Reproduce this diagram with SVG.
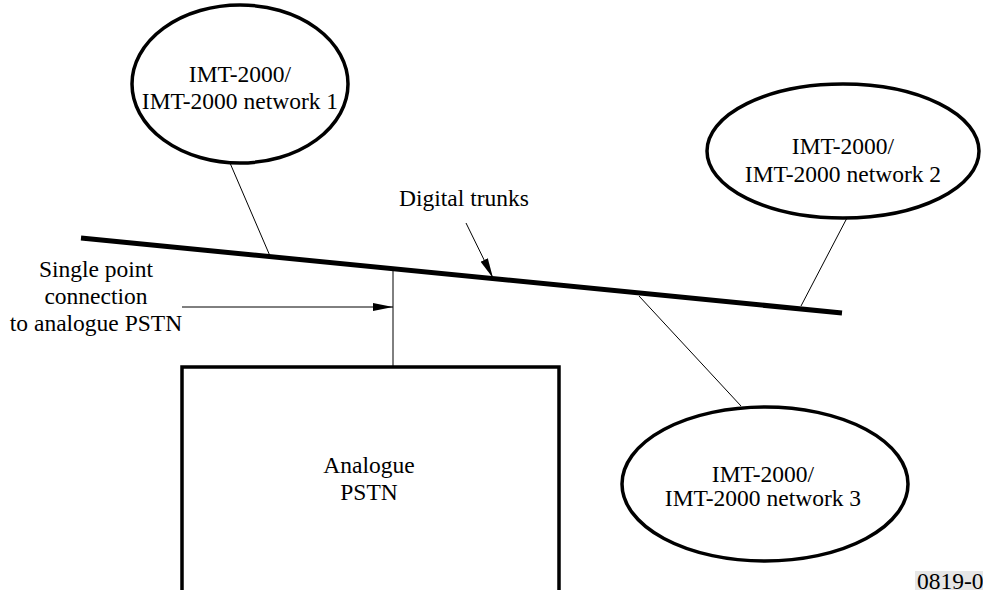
<svg xmlns="http://www.w3.org/2000/svg" width="983" height="590" viewBox="0 0 983 590">
<style>
text{font-family:"Liberation Serif","Times New Roman","DejaVu Serif",serif;font-size:23.5px;fill:#000;text-anchor:middle}
.n{fill:#fff;stroke:#000;stroke-width:3.5}
.c{stroke:#000;stroke-width:1;fill:none}
</style>
<defs>
<marker id="ah" markerWidth="20" markerHeight="10" refX="20" refY="5" orient="auto" markerUnits="userSpaceOnUse">
<path d="M0,1 L20,5 L0,9 Z" fill="#000"/>
</marker>
</defs>
<rect width="983" height="590" fill="#fff"/>
<g id="connectors">
<line class="c" x1="230" y1="163" x2="270" y2="256"/>
<line class="c" x1="848" y1="216" x2="801" y2="306"/>
<line class="c" x1="639" y1="296" x2="741" y2="406"/>
<line class="c" x1="393" y1="269" x2="393" y2="367"/>
<line class="c" x1="182" y1="307" x2="393" y2="307" marker-end="url(#ah)"/>
<line class="c" x1="466" y1="223" x2="493" y2="278" marker-end="url(#ah)"/>
</g>
<g id="trunk">
<line x1="81" y1="238" x2="842" y2="313" stroke="#000" stroke-width="5"/>
</g>
<g id="net1">
<ellipse class="n" cx="240" cy="84" rx="108" ry="79"/>
<text x="240" y="82">IMT-2000/</text>
<text x="240" y="109">IMT-2000 network 1</text>
</g>
<g id="net2">
<ellipse class="n" cx="843" cy="151" rx="136" ry="67"/>
<text x="843" y="154">IMT-2000/</text>
<text x="843" y="182">IMT-2000 network 2</text>
</g>
<g id="net3">
<ellipse class="n" cx="765" cy="484" rx="143" ry="77"/>
<text x="763" y="482">IMT-2000/</text>
<text x="763" y="506">IMT-2000 network 3</text>
</g>
<g id="pstn">
<path class="n" d="M182,592 L182,367 L559,367 L559,592"/>
<text x="369" y="473">Analogue</text>
<text x="369" y="500">PSTN</text>
</g>
<g id="labels">
<text x="464" y="206">Digital trunks</text>
<text x="96" y="277">Single point</text>
<text x="96" y="304">connection</text>
<text x="96" y="331">to analogue PSTN</text>
<rect x="915" y="571" width="68" height="19" fill="#e6e6e6"/>
<text x="917" y="589" style="text-anchor:start">0819-0</text>
</g>
</svg>
